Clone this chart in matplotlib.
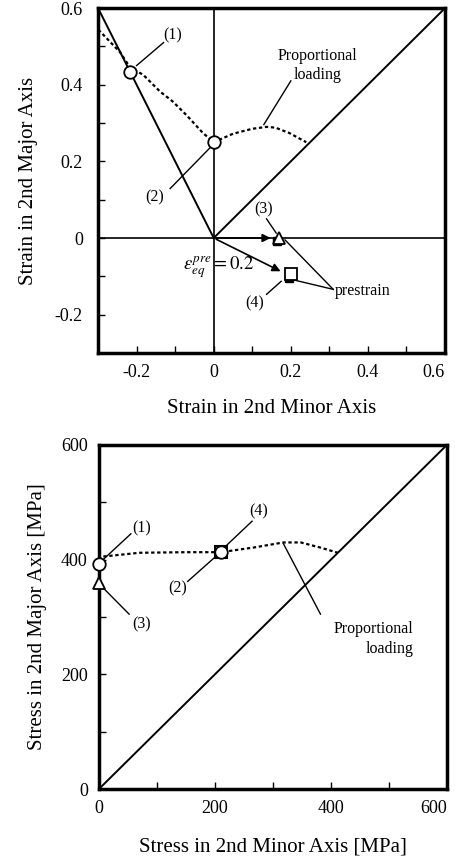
import numpy as np
import matplotlib
matplotlib.use('Agg')
import matplotlib.pyplot as plt

plt.rcParams['font.family'] = ['Liberation Serif', 'DejaVu Serif']
plt.rcParams['mathtext.fontset'] = 'stix'

# --- strain panel data ---
flc_strain_x = [-0.31, -0.243, -0.217, -0.183, -0.139, -0.106, -0.07, -0.028, 0.0, 0.05, 0.1, 0.137, 0.16, 0.196, 0.24]
flc_strain_y = [0.555, 0.485, 0.445, 0.426, 0.382, 0.356, 0.32, 0.274, 0.25, 0.272, 0.285, 0.29, 0.288, 0.274, 0.25]
uniax_x = [-0.3, 0.0]
uniax_y = [0.6, 0.0]
equib_x = [0.0, 0.6]
equib_y = [0.0, 0.6]
circle_strain_x = [-0.217, 0.0]
circle_strain_y = [0.434, 0.25]
tri_strain = (0.17, 0.0)
sq_strain = (0.2, -0.095)

# --- stress panel data ---
flc_stress_x = [0, 3, 70, 151, 210, 266, 318, 348, 382, 412]
flc_stress_y = [400, 405, 412, 413, 413, 421, 430, 430, 421, 412]
circle_stress_x = [0, 210]
circle_stress_y = [393, 413]
tri_stress = (0, 360)
sq_stress = (210, 413)

fig = plt.figure(figsize=(4.56, 8.58), dpi=100)

# ================= top panel =================
ax = fig.add_axes([0.215, 0.5886, 0.761, 0.402])
ax.set_xlim(-0.3, 0.6)
ax.set_ylim(-0.3, 0.6)
ax.axhline(0, color='k', lw=1.2)
ax.axvline(0, color='k', lw=1.2)
ax.plot(uniax_x, uniax_y, color='k', lw=1.4)
ax.plot(equib_x, equib_y, color='k', lw=1.4)
ax.plot(flc_strain_x, flc_strain_y, color='k', lw=1.6, ls=(0, (1.5, 1.2)))

# prestrain arrows
ax.annotate('', xy=(0.155, 0), xytext=(0, 0),
            arrowprops=dict(arrowstyle='-|>', color='k', lw=1.2, mutation_scale=12))
ax.annotate('', xy=(0.18, -0.09), xytext=(0, 0),
            arrowprops=dict(arrowstyle='-|>', color='k', lw=1.2, mutation_scale=12))

# filled markers behind open ones
ax.plot([tri_strain[0] - 0.005, sq_strain[0] - 0.005], [tri_strain[1] - 0.008, sq_strain[1] - 0.01],
        's', color='k', ms=6, zorder=4)
ax.plot(circle_strain_x, circle_strain_y, 'o', mfc='white', mec='k', ms=9, mew=1.3, zorder=5)
ax.plot(*tri_strain, '^', mfc='white', mec='k', ms=9, mew=1.3, zorder=5)
ax.plot(*sq_strain, 's', mfc='white', mec='k', ms=9, mew=1.3, zorder=5)

lbl = dict(fontsize=11.5, ha='center', va='center')
ax.text(-0.106, 0.529, '(1)', **lbl)
ax.plot([-0.2, -0.13], [0.45, 0.51], color='k', lw=1)
ax.text(-0.152, 0.106, '(2)', **lbl)
ax.plot([-0.113, -0.01], [0.129, 0.235], color='k', lw=1)
ax.text(0.13, 0.075, '(3)', **lbl)
ax.plot([0.137, 0.162], [0.05, 0.013], color='k', lw=1)
ax.text(0.106, -0.17, '(4)', **lbl)
ax.plot([0.137, 0.175], [-0.147, -0.113], color='k', lw=1)
ax.text(0.27, 0.45, 'Proportional\nloading', fontsize=11.5, ha='center', va='center', linespacing=1.3)
ax.plot([0.2, 0.13], [0.41, 0.296], color='k', lw=1)
ax.text(0.315, -0.139, 'prestrain', fontsize=11.5, ha='left', va='center')
ax.plot([0.31, 0.185], [-0.134, -0.005], color='k', lw=1)
ax.plot([0.31, 0.21], [-0.134, -0.11], color='k', lw=1)
ax.text(0.013, -0.078, r'$\varepsilon_{eq}^{pre}=0.2$', fontsize=13.5, ha='center', va='center')

ax.set_xticks([-0.2, 0, 0.2, 0.4, 0.6])
ax.set_xticklabels(['-0.2', '0', '0.2', '0.4', '0.6'])
ax.set_yticks([-0.2, 0, 0.2, 0.4, 0.6])
ax.set_yticklabels(['-0.2', '0', '0.2', '0.4', '0.6'])
ax.set_xticks(np.arange(-0.3, 0.61, 0.1), minor=True)
ax.set_yticks(np.arange(-0.3, 0.61, 0.1), minor=True)
ax.tick_params(which='both', direction='in', length=5, width=1, labelsize=13, pad=8)
ax.tick_params(axis='y', pad=11)
ax.get_xticklabels()[-1].set_ha('right')
for s in ax.spines.values():
    s.set_linewidth(2.5)
ax.set_xlabel('Strain in 2nd Minor Axis', fontsize=15, labelpad=13)
ax.set_ylabel('Strain in 2nd Major Axis', fontsize=15, labelpad=12)

# ================= bottom panel =================
ax2 = fig.add_axes([0.217, 0.0804, 0.763, 0.401])
ax2.set_xlim(0, 600)
ax2.set_ylim(0, 600)
ax2.plot([0, 600], [0, 600], color='k', lw=1.4)
ax2.plot(flc_stress_x, flc_stress_y, color='k', lw=1.6, ls=(0, (1.5, 1.2)))
ax2.plot(*sq_stress, 's', mfc='white', mec='k', ms=9, mew=1.5, zorder=5)
ax2.plot(circle_stress_x, circle_stress_y, 'o', mfc='white', mec='k', ms=9, mew=1.3, zorder=6)
ax2.plot(*tri_stress, '^', mfc='white', mec='k', ms=9, mew=1.3, zorder=5, clip_on=False)
for l in ax2.lines[-2:]:
    l.set_clip_on(False)

ax2.text(73, 455, '(1)', **lbl)
ax2.plot([5, 55], [398, 445], color='k', lw=1)
ax2.text(73, 287, '(3)', **lbl)
ax2.plot([3, 52], [355, 305], color='k', lw=1)
ax2.text(275, 484, '(4)', **lbl)
ax2.plot([217, 264], [422, 467], color='k', lw=1)
ax2.text(136, 350, '(2)', **lbl)
ax2.plot([153, 203], [362, 407], color='k', lw=1)
ax2.text(542, 262, 'Proportional\nloading', fontsize=11.5, ha='right', va='center', linespacing=1.3)
ax2.plot([382, 318], [305, 428], color='k', lw=1)

ax2.set_xticks([0, 200, 400, 600])
ax2.set_yticks([0, 200, 400, 600])
ax2.set_xticks(np.arange(0, 601, 100), minor=True)
ax2.set_yticks(np.arange(0, 601, 100), minor=True)
ax2.tick_params(which='both', direction='in', length=5, width=1, labelsize=13, pad=8)
ax2.get_xticklabels()[-1].set_ha('right')
for s in ax2.spines.values():
    s.set_linewidth(2.5)
ax2.set_xlabel('Stress in 2nd Minor Axis [MPa]', fontsize=15, labelpad=15)
ax2.set_ylabel('Stress in 2nd Major Axis [MPa]', fontsize=15, labelpad=10)

fig.savefig('out.png', dpi=100)
